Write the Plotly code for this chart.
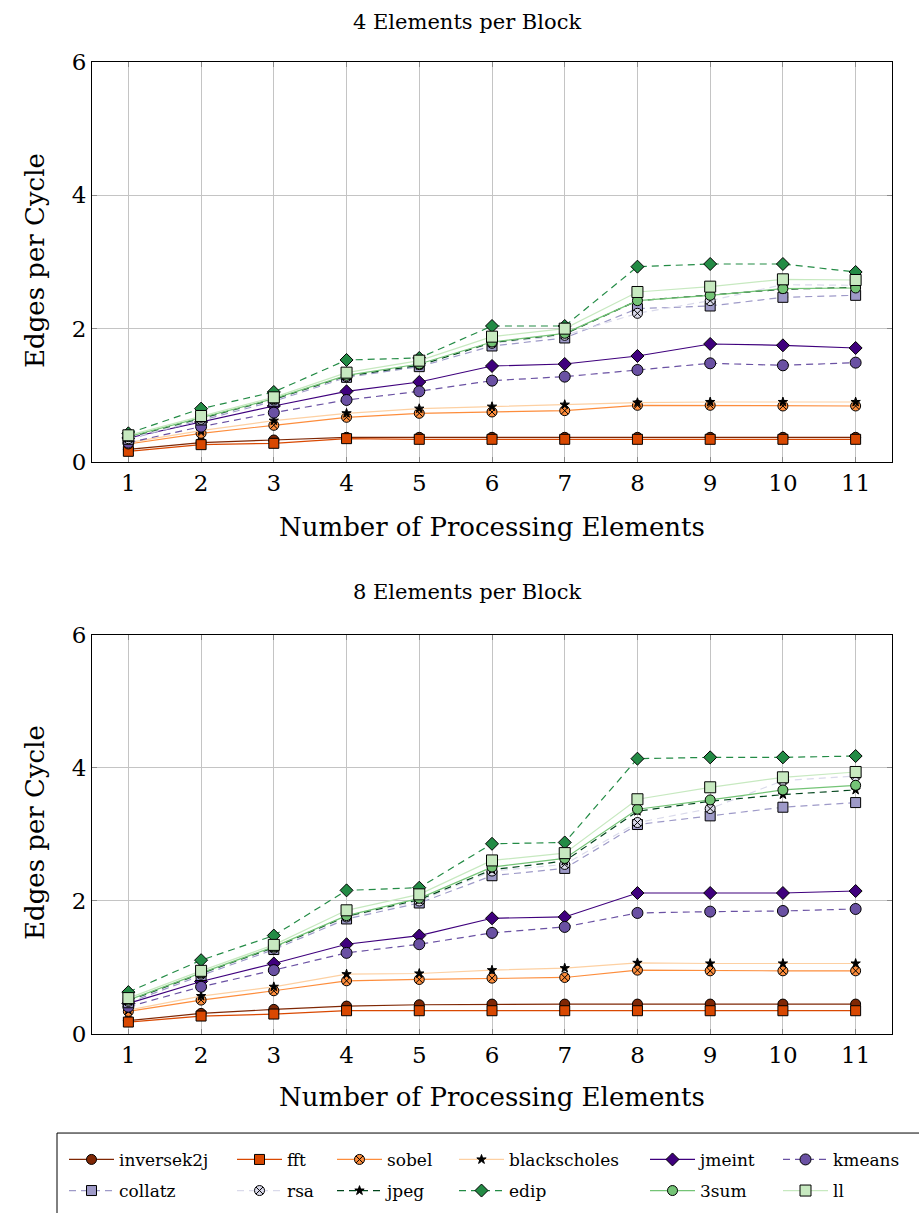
import plotly.graph_objects as go

# Number of processing elements
pes = [1, 2, 3, 4, 5, 6, 7, 8, 9, 10, 11]

benchmarks = ["inversek2j", "fft", "sobel", "blackscholes", "jmeint", "kmeans",
              "collatz", "rsa", "jpeg", "edip", "3sum", "ll"]

# Edges per cycle, 4 elements per block
epc4_inversek2j = [0.19, 0.29, 0.33, 0.37, 0.37, 0.37, 0.37, 0.37, 0.37, 0.37, 0.37]
epc4_fft = [0.16, 0.26, 0.28, 0.35, 0.34, 0.34, 0.34, 0.34, 0.34, 0.34, 0.34]
epc4_sobel = [0.27, 0.43, 0.55, 0.67, 0.73, 0.75, 0.77, 0.85, 0.85, 0.84, 0.84]
epc4_blackscholes = [0.29, 0.47, 0.62, 0.73, 0.80, 0.83, 0.86, 0.89, 0.90, 0.90, 0.90]
epc4_jmeint = [0.36, 0.60, 0.84, 1.06, 1.20, 1.44, 1.47, 1.59, 1.77, 1.75, 1.71]
epc4_kmeans = [0.29, 0.53, 0.74, 0.93, 1.06, 1.22, 1.28, 1.38, 1.48, 1.45, 1.49]
epc4_collatz = [0.34, 0.63, 0.91, 1.27, 1.43, 1.74, 1.86, 2.30, 2.34, 2.47, 2.50]
epc4_rsa = [0.35, 0.64, 0.93, 1.28, 1.46, 1.78, 1.90, 2.23, 2.42, 2.66, 2.65]
epc4_jpeg = [0.37, 0.66, 0.94, 1.29, 1.45, 1.79, 1.92, 2.42, 2.50, 2.59, 2.62]
epc4_edip = [0.43, 0.80, 1.05, 1.53, 1.56, 2.04, 2.04, 2.93, 2.97, 2.97, 2.85]
epc4_3sum = [0.38, 0.67, 0.95, 1.30, 1.47, 1.80, 1.93, 2.42, 2.50, 2.60, 2.61]
epc4_ll = [0.40, 0.69, 0.97, 1.34, 1.52, 1.88, 2.00, 2.55, 2.63, 2.74, 2.73]

# Edges per cycle, 8 elements per block
epc8_inversek2j = [0.20, 0.31, 0.37, 0.42, 0.44, 0.45, 0.45, 0.45, 0.45, 0.45, 0.45]
epc8_fft = [0.18, 0.27, 0.30, 0.35, 0.35, 0.35, 0.35, 0.35, 0.35, 0.35, 0.35]
epc8_sobel = [0.34, 0.51, 0.65, 0.80, 0.82, 0.84, 0.85, 0.96, 0.95, 0.95, 0.95]
epc8_blackscholes = [0.36, 0.57, 0.71, 0.90, 0.91, 0.96, 0.99, 1.07, 1.06, 1.06, 1.06]
epc8_jmeint = [0.46, 0.79, 1.06, 1.35, 1.48, 1.74, 1.76, 2.12, 2.12, 2.12, 2.15]
epc8_kmeans = [0.41, 0.71, 0.96, 1.22, 1.35, 1.52, 1.61, 1.82, 1.84, 1.85, 1.88]
epc8_collatz = [0.47, 0.88, 1.27, 1.73, 1.97, 2.38, 2.49, 3.15, 3.28, 3.41, 3.48]
epc8_rsa = [0.49, 0.90, 1.29, 1.76, 2.00, 2.45, 2.55, 3.18, 3.39, 3.81, 3.88]
epc8_jpeg = [0.50, 0.91, 1.30, 1.77, 2.02, 2.47, 2.60, 3.35, 3.50, 3.60, 3.67]
epc8_edip = [0.63, 1.11, 1.48, 2.16, 2.20, 2.86, 2.88, 4.14, 4.16, 4.16, 4.18]
epc8_3sum = [0.51, 0.92, 1.31, 1.78, 2.04, 2.51, 2.64, 3.38, 3.52, 3.67, 3.74]
epc8_ll = [0.54, 0.95, 1.34, 1.86, 2.10, 2.61, 2.72, 3.53, 3.71, 3.86, 3.94]

x_ticks = [1, 2, 3, 4, 5, 6, 7, 8, 9, 10, 11]
y_ticks = [0, 2, 4, 6]

series4 = [epc4_inversek2j, epc4_fft, epc4_sobel, epc4_blackscholes, epc4_jmeint,
           epc4_kmeans, epc4_collatz, epc4_rsa, epc4_jpeg, epc4_edip, epc4_3sum, epc4_ll]
series8 = [epc8_inversek2j, epc8_fft, epc8_sobel, epc8_blackscholes, epc8_jmeint,
           epc8_kmeans, epc8_collatz, epc8_rsa, epc8_jpeg, epc8_edip, epc8_3sum, epc8_ll]

# line colour, dash, marker symbol, marker fill, marker size
styles = {
    "inversek2j":   ("#7f2704", "solid", "circle", "#7f2704", 10),
    "fft":          ("#d94801", "solid", "square", "#d94801", 10),
    "sobel":        ("#fd8d3c", "solid", "circle-x", "#fd8d3c", 10),
    "blackscholes": ("#fdd0a2", "solid", "star", "black", 7),
    "jmeint":       ("#3f007d", "solid", "diamond", "#3f007d", 10),
    "kmeans":       ("#6a51a3", "7px,5px", "circle", "#6a51a3", 11),
    "collatz":      ("#9e9ac8", "7px,5px", "square", "#9e9ac8", 10),
    "rsa":          ("#dadaeb", "7px,5px", "circle-x", "#dadaeb", 10),
    "jpeg":         ("#00441b", "7px,5px", "star", "black", 7),
    "edip":         ("#238b45", "7px,5px", "diamond", "#238b45", 10),
    "3sum":         ("#74c476", "solid", "circle", "#74c476", 10),
    "ll":           ("#c7e9c0", "solid", "square", "#c7e9c0", 11),
}

# Legend layout: two rows of six, each column with its own width (px)
legend_row = {name: ("legend" if i < 6 else "legend2") for i, name in enumerate(benchmarks)}
column_width = [108, 40, 62, 131, 73, 100]
legend_width = {name: column_width[i % 6] for i, name in enumerate(benchmarks)}

FONT = "DejaVu Serif"

fig = go.Figure()
for panel, (series, xa, ya) in enumerate([(series4, "x", "y"), (series8, "x2", "y2")]):
    for name, vals in zip(benchmarks, series):
        lc, dash, sym, fill, size = styles[name]
        fig.add_trace(go.Scatter(
            x=pes, y=vals, name=name, xaxis=xa, yaxis=ya,
            mode="lines+markers", legendgroup=name, showlegend=(panel == 0),
            legend=legend_row[name], legendwidth=legend_width[name],
            line=dict(color=lc, width=1.2, dash=dash),
            marker=dict(symbol=sym, size=size, color=fill,
                        line=dict(color="black", width=1)),
        ))

top_dom = [0.5885, 1.0]
bot_dom = [0.0, 0.4105]

axis_common = dict(
    showgrid=True, gridcolor="#c4c4c4", gridwidth=1,
    showline=True, linecolor="black", linewidth=1, mirror="ticks",
    ticks="inside", ticklen=5, tickcolor="#8a8a8a",
    tickfont=dict(family=FONT, size=23, color="black"),
    zeroline=False,
)

xax = dict(axis_common, range=[0.5, 11.5], tickvals=x_ticks, ticktext=[str(v) for v in x_ticks])
yax = dict(axis_common, range=[0, 6], tickvals=y_ticks, ticktext=[str(v) for v in y_ticks])

legend_common = dict(
    orientation="h", xanchor="left", yanchor="top", x=-0.035,
    bgcolor="rgba(0,0,0,0)", borderwidth=0,
    font=dict(family=FONT, size=17, color="black"),
    itemwidth=45, traceorder="normal",
)

fig.update_layout(
    width=919, height=1213,
    margin=dict(l=92, r=27, t=62, b=179, autoexpand=False),
    paper_bgcolor="white", plot_bgcolor="white",
    font=dict(family=FONT, color="black"),
    xaxis=dict(xax, domain=[0, 1], anchor="y"),
    yaxis=dict(yax, domain=top_dom, anchor="x"),
    xaxis2=dict(xax, domain=[0, 1], anchor="y2"),
    yaxis2=dict(yax, domain=bot_dom, anchor="x2"),
    legend=dict(legend_common, y=-0.111),
    legend2=dict(legend_common, y=-0.143),
)

# Frame around the legend
fig.add_shape(type="rect", xref="paper", yref="paper",
              x0=-0.04375, x1=1.045, y0=-0.1019, y1=-0.195,
              line=dict(color="black", width=1), fillcolor="rgba(0,0,0,0)", layer="below")

annotations = [
    dict(text="4 Elements per Block", x=0.469, y=1.0412, font=dict(size=21)),
    dict(text="8 Elements per Block", x=0.469, y=0.4547, font=dict(size=21)),
    dict(text="Number of Processing Elements", x=0.5, y=0.5216, font=dict(size=26)),
    dict(text="Number of Processing Elements", x=0.5, y=-0.0648, font=dict(size=26)),
    dict(text="Edges per Cycle", x=-0.07125, y=0.7953, textangle=-90, font=dict(size=26)),
    dict(text="Edges per Cycle", x=-0.07125, y=0.2068, textangle=-90, font=dict(size=26)),
]
for a in annotations:
    a.update(xref="paper", yref="paper", showarrow=False,
             xanchor="center", yanchor="middle")
    a["font"].update(family=FONT, color="black")
fig.update_layout(annotations=annotations)

fig.write_html("out.html")
